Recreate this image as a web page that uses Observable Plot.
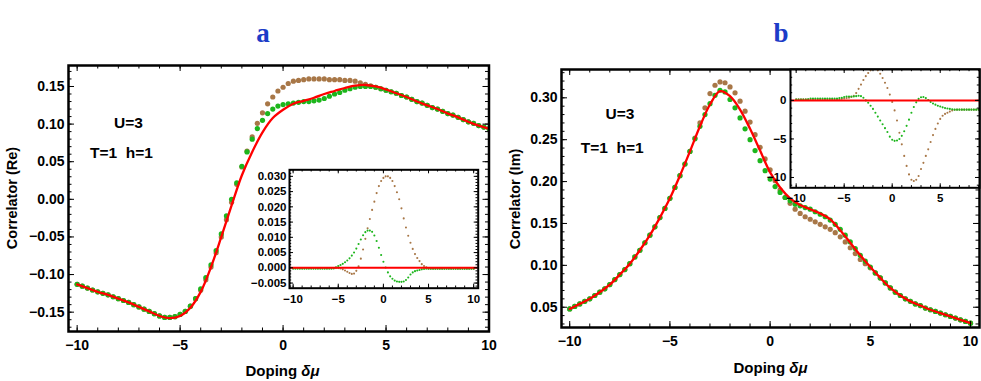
<!DOCTYPE html>
<html>
<head>
<meta charset="utf-8">
<script src="https://cdn.jsdelivr.net/npm/d3@7"></script>
<script src="https://cdn.jsdelivr.net/npm/@observablehq/plot@0.6"></script>
<style>
html,body{margin:0;padding:0;background:#fff;}
#fig{position:relative;width:981px;height:381px;overflow:hidden;background:#fff;font-family:"Liberation Sans",Arial,sans-serif;font-weight:bold;color:#000;}
#fig .box{position:absolute;}
#fig .box svg{display:block;}
.title{position:absolute;font-family:"Liberation Serif","Times New Roman",serif;font-weight:bold;font-size:27px;color:#1c3cc8;transform:translate(-50%,-50%);line-height:1;}
.xlab{position:absolute;font-size:15px;transform:translate(-50%,-50%);white-space:nowrap;line-height:1;}
.ylab{position:absolute;font-size:14.5px;transform:translate(-50%,-50%) rotate(-90deg);white-space:nowrap;line-height:1;}
</style>
</head>
<body>
<div id="fig"></div>
<script>
// ---------- data ----------
const dopingGrid = d3.range(-10, 10.0001, 0.25);   // dot samples
const curveGrid = d3.range(-10, 10.0001, 0.5);     // red curve samples

const panelTitles = ["a", "b"];
const yLabels = ["Correlator (Re)", "Correlator (Im)"];
const annotationU = ["U=3"];
const annotationTh = ["T=1\u00a0\u00a0h=1"];
const insetBaseline = [0];

const xMajorTicks = [-10, -5, 0, 5, 10];
const xMinorTicks = d3.range(-10, 11, 1);
const yMajorRe = [-0.15, -0.10, -0.05, 0, 0.05, 0.10, 0.15];
const yMinorRe = d3.range(-17, 18).map(i => i / 100);
const yMajorIm = [0.05, 0.10, 0.15, 0.20, 0.25, 0.30];
const yMinorIm = d3.range(3, 34).map(i => i / 100);
const yMajorInsetA = [-0.005, 0, 0.005, 0.010, 0.015, 0.020, 0.025, 0.030];
const yMinorInsetA = d3.range(-6, 33).map(i => i / 1000);
const yMajorInsetB = [-10, -5, 0];
const yMinorInsetB = d3.range(-11, 5);

// panel a (Re), main
const redRe = [-0.113,-0.118,-0.123,-0.127,-0.132,-0.137,-0.143,-0.149,-0.155,-0.158,
  -0.155,-0.144,-0.123,-0.090,-0.050,-0.008,0.032,0.063,0.089,0.108,
  0.119,0.127,0.131,0.135,0.140,0.144,0.148,0.151,0.152,0.150,
  0.146,0.141,0.136,0.130,0.125,0.120,0.114,0.109,0.103,0.098,0.094];
const greenRe = [-0.113,-0.1155,-0.118,-0.1205,-0.123,-0.125,-0.127,-0.1295,-0.132,-0.1345,
  -0.137,-0.140,-0.143,-0.146,-0.149,-0.152,-0.155,-0.157,-0.157,-0.156,
  -0.153,-0.149,-0.142,-0.132,
  -0.119,-0.104,-0.087,-0.068,-0.046,-0.022,0.000,0.022,0.044,0.063,
  0.080,0.094,0.105,0.114,0.120,0.124,0.126,0.127,0.128,0.129,
  0.130,0.130,0.131,0.132,0.134,0.137,0.140,0.142,0.145,0.147,
  0.149,0.150,0.150,0.150,0.149,
  0.147,0.145,0.143,0.141,0.138,0.136,0.133,0.130,0.128,0.125,
  0.122,0.120,0.117,0.114,0.112,0.109,0.106,0.103,0.101,0.098,0.096,0.094];
const brownRe = [-0.113,-0.1155,-0.118,-0.1205,-0.123,-0.125,-0.127,-0.1295,-0.132,-0.1345,
  -0.137,-0.140,-0.143,-0.146,-0.149,-0.152,-0.155,-0.157,-0.157,-0.156,
  -0.153,-0.149,-0.142,-0.132,
  -0.121,-0.107,-0.090,-0.071,-0.050,-0.027,-0.004,0.020,0.043,0.064,
  0.083,0.101,0.115,0.127,0.136,0.144,0.149,0.154,0.157,0.158,
  0.159,0.160,0.160,0.160,0.160,0.159,0.159,0.159,0.158,0.158,
  0.157,0.155,0.153,0.151,0.149,
  0.147,0.145,0.143,0.141,0.138,0.136,0.133,0.130,0.128,0.125,
  0.122,0.120,0.117,0.114,0.112,0.109,0.106,0.103,0.101,0.098,0.096,0.094];

// panel b (Im), main
const redIm = [0.048,0.054,0.060,0.068,0.077,0.089,0.102,0.118,0.136,0.157,
  0.180,0.207,0.236,0.266,0.292,0.308,0.302,0.286,0.263,0.237,
  0.211,0.193,0.180,0.172,0.167,0.162,0.155,0.142,0.127,0.112,
  0.098,0.085,0.073,0.064,0.057,0.052,0.047,0.043,0.039,0.035,0.031];
const greenIm = [0.048,0.051,0.054,0.057,0.060,0.064,0.068,0.072,0.077,0.083,
  0.089,0.095,0.102,0.110,0.118,0.127,0.136,0.146,0.157,0.168,
  0.180,0.193,0.207,0.221,0.236,0.251,0.266,0.280,0.293,0.303,
  0.309,0.307,0.298,0.288,0.276,0.263,0.250,0.237,0.225,0.213,
  0.203,0.194,0.187,0.181,0.177,0.173,0.171,0.169,0.167,0.164,
  0.161,0.158,0.154,0.149,0.143,0.136,0.128,0.120,0.112,0.105,
  0.098,0.091,0.085,0.079,0.073,0.068,0.064,0.060,0.057,0.054,
  0.052,0.049,0.047,0.045,0.043,0.041,0.039,0.037,0.035,0.033,0.031];
const brownIm = [0.048,0.051,0.054,0.057,0.060,0.064,0.068,0.072,0.077,0.083,
  0.089,0.095,0.102,0.110,0.118,0.127,0.136,0.146,0.157,0.168,
  0.180,0.193,0.207,0.221,0.236,
  0.252,0.270,0.288,0.305,0.315,0.319,0.318,0.313,0.306,0.296,
  0.284,0.271,0.256,0.241,0.227,0.214,0.201,0.190,0.181,0.174,
  0.167,0.162,0.158,0.155,0.152,0.149,0.146,0.143,0.139,0.134,
  0.128,0.121,0.114,0.107,0.102,0.097,
  0.091,0.085,0.079,0.073,0.068,0.064,0.060,0.057,0.054,0.052,
  0.049,0.047,0.045,0.043,0.041,0.039,0.037,0.035,0.033,0.031];

// insets
const greenInsetRe = [-0.0003,-0.0003,-0.0003,-0.0003,-0.0003,-0.0003,-0.0003,-0.0003,-0.0003,-0.0003,
  -0.0003,-0.0003,-0.0003,-0.0003,-0.0003,-0.0003,-0.0003,-0.0003,
  -0.0002,0.0002,0.0006,0.0009,0.0013,0.0018,0.0024,0.0031,0.0040,0.0050,
  0.0063,0.0078,0.0093,0.0107,0.0117,0.0122,0.0122,0.0118,0.0106,0.0088,
  0.0066,0.0042,0.0020,0.0001,-0.0015,-0.0028,-0.0036,-0.0042,-0.0045,-0.0046,
  -0.0046,-0.0045,-0.0040,-0.0032,-0.0022,-0.0015,-0.0011,-0.0009,-0.0007,-0.0005,
  -0.0004,
  -0.0003,-0.0003,-0.0003,-0.0003,-0.0003,-0.0003,-0.0003,-0.0003,-0.0003,-0.0003,
  -0.0003,-0.0003,-0.0003,-0.0003,-0.0003,-0.0003,-0.0003,-0.0003,-0.0003,-0.0003,-0.0003,-0.0003];
const brownInsetRe = [-0.0001,-0.0001,-0.0001,-0.0001,-0.0001,-0.0001,-0.0001,-0.0001,-0.0001,-0.0001,
  -0.0001,-0.0001,-0.0001,-0.0001,-0.0001,-0.0001,-0.0001,-0.0001,-0.0001,-0.0001,-0.0001,
  -0.0002,-0.0005,-0.0009,-0.0013,-0.0017,-0.0020,-0.0019,-0.0010,0.0005,0.0030,
  0.0060,0.0095,0.0130,0.0160,0.0190,0.0217,0.0245,0.0268,0.0285,0.0295,
  0.0300,0.0300,0.0295,0.0285,0.0268,0.0248,0.0225,0.0195,0.0162,0.0132,
  0.0105,0.0082,0.0062,0.0045,0.0032,0.0022,0.0012,0.0006,0.0002,
  -0.0003,-0.0003,-0.0003,-0.0003,-0.0003,-0.0003,-0.0003,-0.0003,-0.0003,-0.0003,
  -0.0003,-0.0003,-0.0003,-0.0003,-0.0003,-0.0003,-0.0003,-0.0003,-0.0003,-0.0003,-0.0003];
const greenInsetIm = [0.1,0.1,0.1,0.1,0.1,0.15,0.25,0.25,0.25,0.25,
  0.25,0.25,0.25,0.25,0.25,0.25,0.25,0.25,0.3,0.35,
  0.45,0.5,0.5,0.5,0.5,0.55,0.6,0.55,0.35,0.0,
  -0.3,-0.7,-1.1,-1.6,-2.1,-2.6,-3.1,-3.6,-4.1,-4.7,
  -5.1,-5.25,-5.2,-5.0,-4.6,-4.0,-3.3,-2.5,-1.6,-0.85,
  -0.25,0.2,0.4,0.45,0.3,0.05,-0.2,-0.4,-0.55,-0.7,
  -0.8,-0.9,-1.0,-1.05,-1.1,-1.15,-1.2,-1.2,-1.2,-1.2,
  -1.2,-1.2,-1.2,-1.2,-1.2,-1.2,-1.2,-1.2,-1.2,-1.2,-1.2];
const brownInsetIm = [0.15,0.15,0.15,0.15,0.15,0.15,0.15,0.15,0.15,0.15,
  0.15,0.15,0.15,0.15,0.15,0.15,0.15,0.15,0.15,0.2,
  0.25,0.3,0.35,0.45,0.6,0.95,1.5,2.05,2.65,3.15,
  3.55,3.9,4.4,4.4,3.9,3.45,2.9,2.3,1.6,0.75,
  -0.2,-1.3,-2.6,-4.2,-5.7,-7.2,-8.5,-9.6,-10.3,-10.45,
  -10.3,-9.8,-8.9,-8.1,-7.2,-6.35,-5.4,-4.5,-3.7,-3.0,
  -2.4,-2.0,-1.75,-1.6,-1.45,-1.3,-1.22,-1.2,-1.2,-1.2,
  -1.2,-1.2,-1.2,-1.2,-1.2,-1.2,-1.2,-1.2,-1.2,-1.2,-1.2];

// ---------- styles ----------
const RED = "#ff0000", GREEN = "#1cb61c", BROWN = "#a87747";
const fig = document.getElementById("fig");

function series(xs, ys) { return ys.map((v, i) => ({x: xs[i], y: v})); }
const within = (ticks, [a, b]) => ticks.filter(t => t >= a - 1e-9 && t <= b + 1e-9);

function drawPanel(c) {
  const pw = c.width - c.ml - c.mr, ph = c.height - c.mt - c.mb;
  const xMaj = within(c.xMajor, c.xDomain), xMin = within(c.xMinor, c.xDomain);
  const yMaj = within(c.yMajor, c.yDomain), yMin = within(c.yMinor, c.yDomain);
  const tick = {stroke: "black", strokeWidth: 1};
  const marks = [];
  if (c.whiteFill) marks.push(Plot.frame({fill: "white", stroke: "none"}));
  marks.push(Plot.dot(series(dopingGrid, c.brown), {x: "x", y: "y", r: c.r, fill: BROWN, stroke: "none", clip: true}));
  marks.push(Plot.dot(series(dopingGrid, c.green), {x: "x", y: "y", r: c.r, fill: GREEN, stroke: "none", clip: true}));
  if (c.red) marks.push(Plot.line(series(curveGrid, c.red), {x: "x", y: "y", stroke: RED, strokeWidth: 2.3, curve: "catmull-rom", clip: true}));
  else marks.push(Plot.ruleY(insetBaseline, {stroke: RED, strokeWidth: 2}));
  marks.push(
    Plot.ruleX(xMin, {...tick, insetTop: ph - c.minLen}),
    Plot.ruleX(xMaj, {...tick, insetTop: ph - c.majLen}),
    Plot.ruleX(xMin, {...tick, insetBottom: ph - c.minLen}),
    Plot.ruleX(xMaj, {...tick, insetBottom: ph - c.majLen}),
    Plot.ruleY(yMin, {...tick, insetRight: pw - c.minLen}),
    Plot.ruleY(yMaj, {...tick, insetRight: pw - c.majLen}),
    Plot.ruleY(yMin, {...tick, insetLeft: pw - c.minLen}),
    Plot.ruleY(yMaj, {...tick, insetLeft: pw - c.majLen}),
    Plot.frame({stroke: "black", strokeWidth: c.frameW}),
    Plot.axisX({ticks: xMaj, tickSize: 0, tickPadding: c.padX, tickFormat: c.fmtX, label: null}),
    Plot.axisY({ticks: yMaj, tickSize: 0, tickPadding: c.padY, tickFormat: c.fmtY, label: null})
  );
  if (c.notes) {
    for (const n of c.notes) {
      marks.push(Plot.text(n.text, {text: d => d, frameAnchor: "top-left", dx: n.dx, dy: n.dy,
        textAnchor: "middle", lineAnchor: "middle", fontSize: 15.5, fontWeight: "bold", fill: "black"}));
    }
  }
  const svg = Plot.plot({
    width: c.width, height: c.height,
    marginLeft: c.ml, marginRight: c.mr, marginTop: c.mt, marginBottom: c.mb,
    x: {domain: c.xDomain},
    y: {domain: c.yDomain},
    style: {background: "transparent", fontFamily: "'Liberation Sans', Arial, sans-serif",
            fontSize: c.fontSize + "px", fontWeight: "bold", color: "black", overflow: "hidden"},
    marks
  });
  const box = document.createElement("div");
  box.className = "box";
  box.style.left = c.left + "px";
  box.style.top = c.top + "px";
  box.append(svg);
  fig.append(box);
}

const fmt2 = d3.format(".2f"), fmt3 = d3.format(".3f"), fmtD = d3.format("d");

// main a
drawPanel({left: 0, top: 0, width: 502, height: 381, ml: 68, mr: 13.5, mt: 65, mb: 50,
  xDomain: [-10.42, 10.0], yDomain: [-0.1757, 0.1779],
  xMajor: xMajorTicks, xMinor: xMinorTicks, yMajor: yMajorRe, yMinor: yMinorRe,
  fmtX: fmtD, fmtY: fmt2, padX: 9, padY: 4, fontSize: 14,
  red: redRe, green: greenRe, brown: brownRe, r: 2.6,
  majLen: 6, minLen: 3.5, frameW: 2.5,
  notes: [{text: annotationU, dx: 60, dy: 58}, {text: annotationTh, dx: 53, dy: 88}]});

// main b
drawPanel({left: 490, top: 0, width: 491, height: 381, ml: 71, mr: 2, mt: 69, mb: 54,
  xDomain: [-10.41, 10.45], yDomain: [0.0258, 0.3338],
  xMajor: xMajorTicks, xMinor: xMinorTicks, yMajor: yMajorIm, yMinor: yMinorIm,
  fmtX: fmtD, fmtY: fmt2, padX: 9, padY: 4, fontSize: 14,
  red: redIm, green: greenIm, brown: brownIm, r: 2.6,
  majLen: 6, minLen: 3.5, frameW: 2.5,
  notes: [{text: annotationU, dx: 58.5, dy: 45}, {text: annotationTh, dx: 50.7, dy: 78.3}]});

// inset a
drawPanel({left: 240, top: 160, width: 250, height: 150, ml: 49, mr: 12.3, mt: 9.3, mb: 22.3,
  xDomain: [-10.4, 10.5], yDomain: [-0.00669, 0.03215],
  xMajor: xMajorTicks, xMinor: xMinorTicks, yMajor: yMajorInsetA, yMinor: yMinorInsetA,
  fmtX: fmtD, fmtY: fmt3, padX: 6.5, padY: 3, fontSize: 11.5,
  green: greenInsetRe, brown: brownInsetRe, r: 1.05, whiteFill: true,
  majLen: 4, minLen: 2.2, frameW: 2});

// inset b
drawPanel({left: 740, top: 60, width: 241, height: 150, ml: 50, mr: 2, mt: 9, mb: 22.7,
  xDomain: [-10.59, 9.09], yDomain: [-11.34, 4.01],
  xMajor: xMajorTicks, xMinor: xMinorTicks, yMajor: yMajorInsetB, yMinor: yMinorInsetB,
  fmtX: fmtD, fmtY: fmtD, padX: 6, padY: 4, fontSize: 11.5,
  green: greenInsetIm, brown: brownInsetIm, r: 1.05, whiteFill: true,
  majLen: 4, minLen: 2.2, frameW: 2});

// html texts
function addText(cls, html, x, y) {
  const d = document.createElement("div");
  d.className = cls; d.innerHTML = html;
  d.style.left = x + "px"; d.style.top = y + "px";
  fig.append(d);
}
addText("title", panelTitles[0], 263, 32.5);
addText("title", panelTitles[1], 781, 32.5);
addText("ylab", yLabels[0], 11.5, 198.3);
addText("ylab", yLabels[1], 515, 198.7);
addText("xlab", "Doping <i>δμ</i>", 282.5, 369.5);
addText("xlab", "Doping <i>δμ</i>", 770.5, 366.5);
</script>
</body>
</html>
